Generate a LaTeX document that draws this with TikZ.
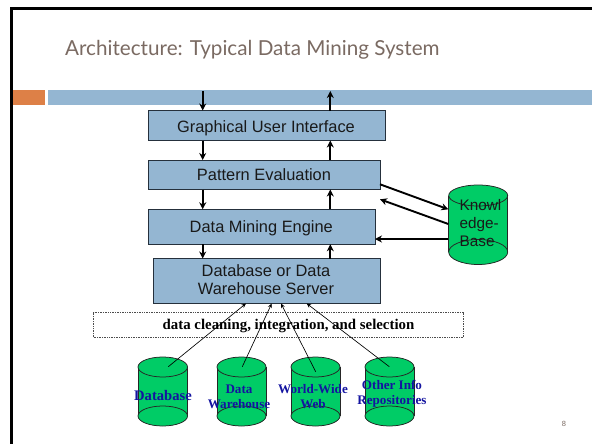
\documentclass[tikz,border=0pt]{standalone}
\usepackage{fontspec}
\setmainfont{Liberation Sans}
\newfontfamily\titlefont{Lato}
\newfontfamily\serifbold[BoldFont={Liberation Serif Bold}]{Liberation Serif}
\definecolor{barblue}{HTML}{94B6D2}
\definecolor{barorange}{HTML}{DD8047}
\definecolor{cylgreen}{HTML}{00CC66}
\definecolor{titlegrey}{HTML}{7A6A62}
\definecolor{labelblue}{HTML}{1414A0}
\definecolor{edgeblue}{HTML}{25303C}
\tikzset{
  layerbox/.style={draw=edgeblue,line width=0.9pt,fill=barblue,inner sep=0pt,outer sep=0pt,anchor=north west},
  layertext/.style={inner sep=0pt,align=center,text=black!90,font=\fontsize{16.4}{18}\selectfont},
  bigarrow/.style={draw=black,line width=1.9pt,-{Stealth[length=7pt,width=7pt]}},
  thinarrow/.style={draw=black,line width=0.65pt,-{Stealth[length=4.5pt,width=4pt]}},
  cyl/.style={draw=black!85,line width=0.75pt,fill=cylgreen},
  cyllabel/.style={align=center,text=labelblue,inner sep=0pt,font=\serifbold\bfseries\fontsize{13.1}{15}\selectfont},
}
\newcommand{\drumshape}[6]{% x1, x2, ytop centre, ybot centre, ry top, ry bot
  \fill[cylgreen] ({(#1+#2)/2},#4) ellipse [x radius={(#2-#1)/2},y radius=#6];
  \fill[cylgreen] (#1,#3) rectangle (#2,#4);
  \draw[cyl] (#1,#3) -- (#1,#4) (#2,#3) -- (#2,#4);
  \draw[cyl] ({(#1+#2)/2},#4) ellipse [x radius={(#2-#1)/2},y radius=#6];
  \draw[cyl] ({(#1+#2)/2},#3) ellipse [x radius={(#2-#1)/2},y radius=#5];
}
\usetikzlibrary{arrows.meta}
\begin{document}
\begin{tikzpicture}[x=1pt,y=-1pt]
\useasboundingbox (0,0) rectangle (592,444);
% slide frame and bars
\draw[black,line width=2.4pt] (592,8.5) -- (11.5,8.5) -- (11.5,444);
\fill[barorange] (12.7,90) rectangle (45,105);
\fill[barblue] (48,90) rectangle (592,105);
\node[anchor=base west,inner sep=0pt,text=titlegrey,font=\titlefont\fontsize{20.65}{22}\selectfont] (title) at (65,55.5) {Architecture: Typical Data Mining System};
% layers
\node[layerbox,minimum width=237pt,minimum height=30pt] (gui) at (148,110.5) {};
\node[layerbox,minimum width=232pt,minimum height=29.5pt] (pat) at (148,160) {};
\node[layerbox,minimum width=227pt,minimum height=35pt] (dme) at (148,209.3) {};
\node[layerbox,minimum width=227pt,minimum height=45pt] (dbs) at (153,258.5) {};
\node[layertext,anchor=base] (guit) at (266,132) {Graphical User Interface};
\node[layertext,anchor=base] (patt) at (264,180.7) {Pattern Evaluation};
\node[layertext,anchor=base] (dmet) at (261.3,232.7) {Data Mining Engine};
\node[layertext] (dbst) at (266,280) {Database or Data\\Warehouse Server};
% column guides and free ends
\coordinate (dn) at (202.7,91);
\coordinate (up) at (330.3,91);
% vertical arrows
\draw[bigarrow] (dn) -- (gui.north -| dn);
\draw[bigarrow] (gui.north -| up) -- (up);
\draw[bigarrow] (gui.south -| dn) -- (pat.north -| dn);
\draw[bigarrow] (pat.north -| up) -- (gui.south -| up);
\draw[bigarrow] (pat.south -| dn) -- (dme.north -| dn);
\draw[bigarrow] (dme.north -| up) -- (pat.south -| up);
\draw[bigarrow] (dme.south -| dn) -- (dbs.north -| dn);
\draw[bigarrow] (dbs.north -| up) -- (dme.south -| up);
% knowledge base
\drumshape{448.7}{507.7}{195.5}{252}{10.5}{12.5}
\node[align=left,inner sep=0pt,anchor=north west,text=black!90,font=\fontsize{15.3}{17.6}\selectfont] (kb) at (459.5,199.6) {Knowl\\edge-\\Base};
\coordinate (kbin) at (448.3,209.3);
\coordinate (kbouta) at (448.3,224);
\coordinate (kboutb) at (448.3,239);
\coordinate (patout) at (380,184.3);
\coordinate (patin) at (380,199.3);
\draw[bigarrow] (pat.east |- patout) -- (kbin);
\draw[bigarrow] (kbouta) -- (patin);
\draw[bigarrow] (kboutb) -- (dme.east |- kboutb);
% cleaning band
\node[draw=black!70,densely dotted,line width=0.7pt,inner sep=0pt,outer sep=0pt,anchor=north west,minimum width=370pt,minimum height=25pt] (clean) at (93.5,312.5) {};
\node[inner sep=0pt,font=\serifbold\bfseries\fontsize{14.85}{16}\selectfont] (cleantext) at (288.5,325.5) {data cleaning, integration, and selection};
% source stores
\drumshape{138}{187.5}{367}{416}{10}{10}
\drumshape{217}{266}{367}{416}{10}{10}
\drumshape{291}{340}{367}{416}{10}{10}
\drumshape{365}{414}{367}{416}{10}{10}
\node[cyllabel,font=\serifbold\bfseries\fontsize{14.6}{15}\selectfont] (s1) at (163,395.5) {Database};
\node[cyllabel] (s2) at (239,396.5) {Data\\Warehouse};
\node[cyllabel] (s3) at (313,396.5) {World-Wide\\Web};
\node[cyllabel] (s4) at (392,393.5) {Other Info\\Repositories};
\coordinate (t1) at (168.3,366.7);
\coordinate (t2) at (242.3,366.7);
\coordinate (t3) at (315.7,371.7);
\coordinate (t4) at (389.3,366.7);
\coordinate (e1) at (246,304);
\coordinate (e2) at (271.7,304);
\coordinate (e3) at (281,304);
\coordinate (e4) at (306.7,304);
\draw[thinarrow] (t1) -- (dbs.south -| e1);
\draw[thinarrow] (t2) -- (dbs.south -| e2);
\draw[thinarrow] (t3) -- (dbs.south -| e3);
\draw[thinarrow] (t4) -- (dbs.south -| e4);
\node[text=titlegrey,inner sep=0pt,font=\fontsize{7.5}{9}\selectfont] (pg) at (564,424) {8};
\end{tikzpicture}
\end{document}
